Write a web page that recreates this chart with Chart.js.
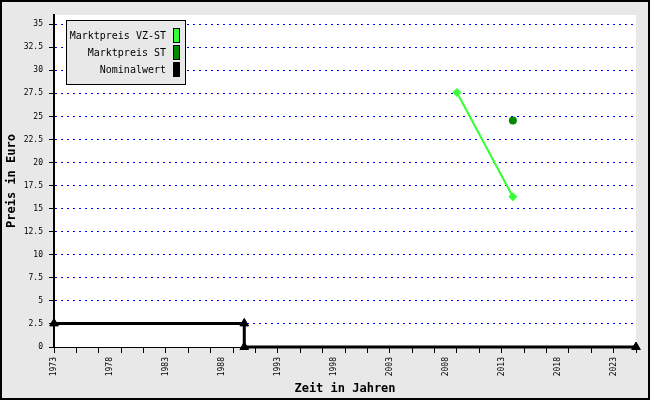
<!DOCTYPE html>
<html>
<head>
<meta charset="utf-8">
<script src="https://cdn.jsdelivr.net/npm/chart.js@4/dist/chart.umd.min.js"></script>
<style>
    body { margin: 0; background: #e8e8e8; }
    canvas { display: block; }
</style>
</head>
<body>
<canvas id="chartContainer" width="650" height="400"></canvas>
<script>
// Daten
const vzYears = [2009, 2014];
const vzPrices = [27.6, 16.3];
const stYears = [2014];
const stPrices = [24.55];
const nomYears = [1973, 1990, 1990, 2025];
const nomValues = [2.56, 2.56, 0, 0];
const yTicks = [0, 2.5, 5, 7.5, 10, 12.5, 15, 17.5, 20, 22.5, 25, 27.5, 30, 32.5, 35];
const xLabelYears = [1973, 1978, 1983, 1988, 1993, 1998, 2003, 2008, 2013, 2018, 2023];
const seriesLabels = ['Marktpreis VZ-ST', 'Marktpreis ST', 'Nominalwert'];
const seriesColors = ['#33ff33', '#008800', '#000000'];

const mono = '"DejaVu Sans Mono", "Liberation Mono", monospace';

function toPoints(xs, ys) {
    return xs.map((x, i) => ({ x: x, y: ys[i] }));
}

// Hintergrund, Rahmen und weisse Zeichenflaeche
const backgroundPlugin = {
    id: 'background',
    beforeDraw(chart) {
        const ctx = chart.ctx;
        const a = chart.chartArea;
        ctx.save();
        ctx.fillStyle = '#e8e8e8';
        ctx.fillRect(0, 0, chart.width, chart.height);
        ctx.fillStyle = '#ffffff';
        ctx.fillRect(a.left, a.top, a.right - a.left, a.bottom - a.top);
        ctx.strokeStyle = '#000';
        ctx.lineWidth = 2;
        ctx.strokeRect(1, 1, chart.width - 2, chart.height - 2);
        ctx.restore();
    }
};

// Legende im Kasten oben links, Farbfeld rechts vom Text
const legendBoxPlugin = {
    id: 'legendBox',
    afterDraw(chart) {
        const ctx = chart.ctx;
        ctx.save();
        ctx.fillStyle = '#e8e8e8';
        ctx.fillRect(66, 20, 119, 64);
        ctx.strokeStyle = '#000';
        ctx.lineWidth = 1;
        ctx.strokeRect(66.5, 20.5, 119, 64);
        ctx.font = '10px ' + mono;
        ctx.textAlign = 'right';
        ctx.textBaseline = 'middle';
        seriesLabels.forEach((label, i) => {
            const y = 35 + i * 17;
            ctx.fillStyle = '#000';
            ctx.fillText(label, 166, y + 1);
            ctx.fillStyle = seriesColors[i];
            ctx.fillRect(173, y - 7, 7, 15);
            ctx.strokeStyle = '#000';
            ctx.strokeRect(173.5, y - 6.5, 6, 14);
        });
        ctx.restore();
    }
};

document.addEventListener('DOMContentLoaded', function() {
    const ctx = document.getElementById('chartContainer').getContext('2d');
    new Chart(ctx, {
        type: 'scatter',
        data: {
            datasets: [
                {
                    label: seriesLabels[0],
                    data: toPoints(vzYears, vzPrices),
                    showLine: true,
                    borderColor: seriesColors[0],
                    backgroundColor: seriesColors[0],
                    borderWidth: 2,
                    pointStyle: 'rectRot',
                    pointRadius: 4,
                    pointBorderWidth: 1
                },
                {
                    label: seriesLabels[1],
                    data: toPoints(stYears, stPrices),
                    borderColor: seriesColors[1],
                    backgroundColor: seriesColors[1],
                    pointStyle: 'circle',
                    pointRadius: 4,
                    pointBorderWidth: 0
                },
                {
                    label: seriesLabels[2],
                    data: toPoints(nomYears, nomValues),
                    showLine: true,
                    clip: false,
                    borderColor: seriesColors[2],
                    backgroundColor: seriesColors[2],
                    borderWidth: 3,
                    pointStyle: 'triangle',
                    pointRadius: 5,
                    pointBorderWidth: 1
                }
            ]
        },
        options: {
            responsive: false,
            animation: false,
            layout: { padding: { left: 0, top: 15, right: 14, bottom: 0 } },
            plugins: {
                legend: { display: false },
                tooltip: { enabled: false }
            },
            scales: {
                x: {
                    type: 'linear',
                    min: 1973,
                    max: 2025,
                    afterFit: scale => { scale.height = 53; },
                    afterBuildTicks: scale => {
                        const ticks = [];
                        for (let y = 1973; y <= 2025; y++) ticks.push({ value: y });
                        scale.ticks = ticks;
                    },
                    grid: {
                        drawOnChartArea: false,
                        tickLength: 6,
                        tickWidth: 1,
                        tickColor: c => (c.tick && (c.tick.value - 1973) % 2 === 0) ? '#000' : 'rgba(0,0,0,0)'
                    },
                    border: { color: '#000', width: 1 },
                    ticks: {
                        autoSkip: false,
                        minRotation: 90,
                        maxRotation: 90,
                        padding: 4,
                        color: '#000',
                        font: { family: mono, size: 8 },
                        callback: v => xLabelYears.includes(v) ? String(v) : ''
                    },
                    title: {
                        display: true,
                        text: 'Zeit in Jahren',
                        color: '#000',
                        font: { family: mono, size: 12, weight: 'bold' },
                        padding: { top: 0, bottom: 4 }
                    }
                },
                y: {
                    min: 0,
                    max: 36,
                    afterFit: scale => { scale.width = 54; },
                    afterBuildTicks: scale => {
                        scale.ticks = yTicks.map(v => ({ value: v }));
                    },
                    grid: {
                        color: '#0000ff',
                        lineWidth: 1,
                        tickColor: '#000',
                        tickLength: 5
                    },
                    border: { color: '#000', width: 2, dash: [2, 4] },
                    ticks: {
                        padding: 6,
                        color: '#000',
                        font: { family: mono, size: 8 },
                        callback: v => String(v)
                    },
                    title: {
                        display: true,
                        text: 'Preis in Euro',
                        color: '#000',
                        font: { family: mono, size: 12, weight: 'bold' },
                        padding: { top: 5, bottom: 0 }
                    }
                }
            }
        },
        plugins: [backgroundPlugin, legendBoxPlugin]
    });
});
</script>
</body>
</html>
